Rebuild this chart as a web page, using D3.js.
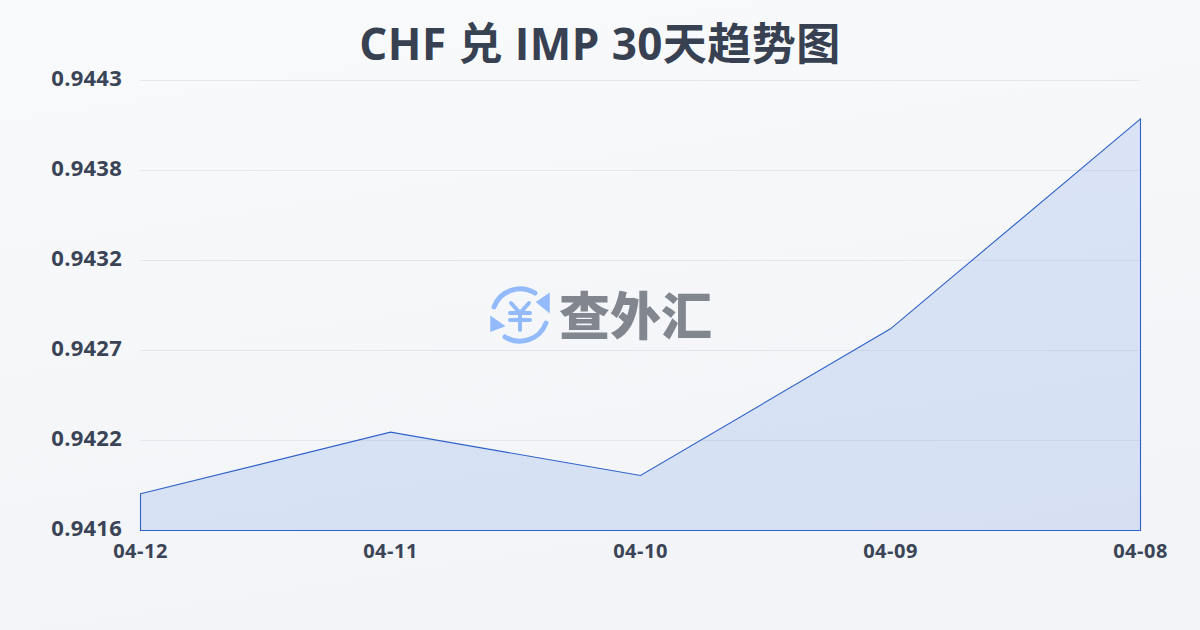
<!DOCTYPE html>
<html><head><meta charset="utf-8">
<script src="https://cdnjs.cloudflare.com/ajax/libs/d3/7.8.5/d3.min.js"></script>
<style>html,body{margin:0;padding:0;background:#f5f7fa}svg{display:block}
text{font-family:"Open Sans","Noto Sans CJK SC",sans-serif}</style></head>
<body><div id="c"></div>
<script>
const titleText="CHF 兑 IMP 30天趋势图";
const dates=["04-12","04-11","04-10","04-09","04-08"];
const rates=[0.94184,0.94221,0.94195,0.94283,0.94409];
const yTicks=[0.94162,0.94216,0.9427,0.94324,0.94378,0.94432];
const W=1200,H=630,M={l:140,r:60,t:80,b:100};
const svg=d3.select("#c").append("svg").attr("width",W).attr("height",H);
const defs=svg.append("defs");
const bg=defs.append("linearGradient").attr("id","bg").attr("x1",0).attr("y1",0).attr("x2",0.3).attr("y2",1);
bg.append("stop").attr("offset",0).attr("stop-color","#f8fafc");
bg.append("stop").attr("offset",1).attr("stop-color","#f2f4f7");
svg.append("rect").attr("width",W).attr("height",H).attr("fill","url(#bg)");
const x=d3.scalePoint().domain(dates).range([M.l,W-M.r]);
const y=d3.scaleLinear().domain([yTicks[0],yTicks[yTicks.length-1]]).range([H-M.b,M.t]);
svg.append("text").attr("x",600).attr("y",60).attr("text-anchor","middle").attr("font-size",44).attr("font-weight",700).attr("fill","#374151").style("letter-spacing","0.45px").text(titleText);
const gy=svg.append("g").attr("transform",`translate(${M.l},0)`).call(d3.axisLeft(y).tickValues(yTicks).tickFormat(d3.format(".4f")).tickSize(-(W-M.l-M.r)).tickPadding(18));
gy.select(".domain").remove();
gy.selectAll("line").attr("stroke","#e5e7eb").attr("stroke-width",1);
gy.selectAll("text").attr("font-size",22).attr("font-weight",700).attr("fill","#3a4456").attr("font-family",'"Open Sans"').attr("dy","0.25em").style("letter-spacing","0.25px");
const gx=svg.append("g").attr("transform",`translate(0,${H-M.b})`).call(d3.axisBottom(x).tickSize(0).tickPadding(14));
gx.select(".domain").remove();
gx.selectAll("text").attr("font-size",20).attr("font-weight",700).attr("fill","#3a4456").attr("font-family",'"Open Sans"').style("letter-spacing","0.5px");
const area=d3.area().x((d,i)=>x(dates[i])).y0(y(yTicks[0])).y1(d=>y(d));
svg.append("path").datum(rates).attr("transform","translate(0.5,0.5)").attr("d",area(rates)+"Z").attr("fill","#3b74e0").attr("fill-opacity",0.15).attr("stroke","#2f62c8").attr("stroke-width",1.1);
// watermark
const wm=svg.append("g");
const ic=wm.append("g").attr("transform","translate(520,315)").attr("fill","none").attr("stroke","#93bbfb").attr("stroke-linecap","round");
ic.append("path").attr("d","M-26,-8A28,28 0 0 1 15,-22").attr("stroke-width",5);
ic.append("path").attr("d","M26,8A28,28 0 0 1 -15,22").attr("stroke-width",5);
ic.append("path").attr("d","M17,-13L29,-21L29,-3Z").attr("fill","#93bbfb").attr("stroke","#93bbfb").attr("stroke-width",1.5);
ic.append("path").attr("d","M-29,2L-29,16L-16,11Z").attr("fill","#93bbfb").attr("stroke","#93bbfb").attr("stroke-width",1.5);
ic.append("path").attr("d","M-9,-12L0,-2L9,-12M-10,-2H10M-10,5H10M0,-2V15").attr("stroke-width",4);
wm.append("text").attr("x",559).attr("y",335).attr("font-size",51).attr("font-weight",900).attr("fill","#82868f").style("font-family",'"Noto Sans CJK SC"').text("查外汇");
</script></body></html>
